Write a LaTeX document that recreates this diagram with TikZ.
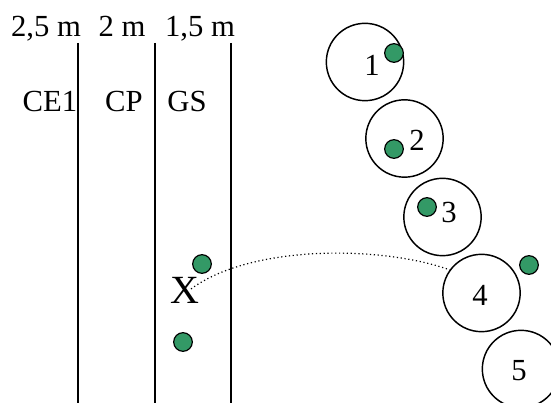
\documentclass[tikz,border=0pt]{standalone}
\usepackage{fontspec}
\setmainfont{Liberation Serif}
\definecolor{dotgreen}{RGB}{51,153,102}
\tikzset{
  ring/.style = {draw, circle, line width = 1.1pt, minimum size = 58pt, inner sep = 0pt},
  dot/.style = {draw, circle, fill = dotgreen, line width = 0.9pt, minimum size = 14pt, inner sep = 0pt},
  txt/.style = {inner sep = 0pt, font = \fontsize{23}{26}\selectfont},
}

\begin{document}
\begin{tikzpicture} [x = 0.75pt, y = -0.75pt]
\useasboundingbox (0, 0) rectangle (551, 403);
% zone borders
\draw[line width = 1.2pt] (78, 43) -- (78, 403);
\draw[line width = 1.2pt] (155, 43) -- (155, 403);
\draw[line width = 1.2pt] (231, 43) -- (231, 403);
\node[txt, anchor = base] (w1) at (46, 37){2,5 m};
\node[txt, anchor = base] (w2) at (122, 37){2 m};
\node[txt, anchor = base] (w3) at (200, 37){1,5 m};
\node[txt, anchor = base] (z1) at (50, 112){CE1};
\node[txt, anchor = base] (z2) at (124, 112){CP};
\node[txt, anchor = base] (z3) at (187, 112){GS};
% circles
\node[ring] (c1) at (365, 62){};
\node[ring] (c2) at (404.5, 138.5){};
\node[ring] (c3) at (442.5, 217){};
\node[ring] (c4) at (481.5, 293){};
\node[ring] (c5) at (521, 369){};
\node[txt] (n1) at (372, 65){1};
\node[txt] (n2) at (417, 140){2};
\node[txt] (n3) at (449, 212){3};
\node[txt] (n4) at (480, 295){4};
\node[txt] (n5) at (519, 371){5};
% dots
\node[dot] (d1) at (394, 53){};
\node[dot] (d2) at (394, 149){};
\node[dot] (d3) at (427, 207){};
\node[dot] (d4) at (529, 265){};
\node[dot] (d5) at (202, 264){};
\node[dot] (d6) at (183, 342){};
\node[inner sep = 0pt, font = \fontsize{30}{34}\selectfont] (x) at (185, 290.5){X};
\coordinate (xs) at (191, 289);
\draw[dotted, line width = 0.9pt] (xs) .. controls (250, 245) and (380, 245) .. (c4.144);
\end{tikzpicture}
\end{document}
